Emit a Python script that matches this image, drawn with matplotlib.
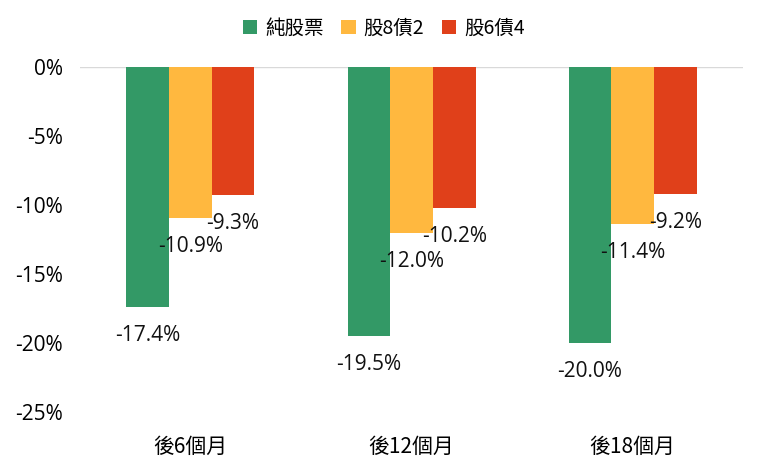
import matplotlib
matplotlib.use("Agg")
import matplotlib.pyplot as plt
import numpy as np

plt.rcParams['font.family'] = ['Open Sans', 'Noto Sans CJK TC', 'DejaVu Sans']

categories = ['後6個月', '後12個月', '後18個月']
series_names = ['純股票', '股8債2', '股6債4']
stock = [-17.4, -19.5, -20.0]
s8b2 = [-10.9, -12.0, -11.4]
s6b4 = [-9.3, -10.2, -9.2]
colors = ['#339966', '#FFB83F', '#E0401A']

fig = plt.figure(figsize=(7.6, 4.73), dpi=100)
ax = fig.add_axes([0.105, 0.129, 0.873, 0.729])

x = np.arange(len(categories))
w = 0.193
for i, (vals, name, c) in enumerate(zip([stock, s8b2, s6b4], series_names, colors)):
    pos = x + (i - 1) * w
    ax.bar(pos, vals, width=w, color=c, label=name, zorder=2)
    for p, v in zip(pos, vals):
        ax.annotate(f'{v:.1f}%', (p, v), xytext=(0, -13), textcoords='offset points',
                    ha='center', va='top', fontsize=15, color='#111111')

ax.axhline(0, color='#d9d9d9', lw=1, zorder=1)
ax.set_xlim(-0.5, 2.5)
ax.set_ylim(-25, 0)
ax.set_yticks(np.arange(-25, 1, 5))
ax.set_yticklabels([f'{t}%' for t in np.arange(-25, 1, 5)], fontsize=15)
ax.set_xticks(x)
ax.set_xticklabels(categories, fontsize=15, family=['Noto Sans CJK TC'], fontweight='medium')
ax.tick_params(length=0, pad=12)
ax.tick_params(axis='x', pad=17)
for s in ax.spines.values():
    s.set_visible(False)

fig.legend(loc='upper center', bbox_to_anchor=(0.505, 1.0), ncol=3, frameon=False,
           handlelength=0.75, handleheight=0.75, handletextpad=0.4,
           columnspacing=0.9, prop={'family': ['Noto Sans CJK TC'], 'size': 14})

fig.savefig('out.png', dpi=100)
